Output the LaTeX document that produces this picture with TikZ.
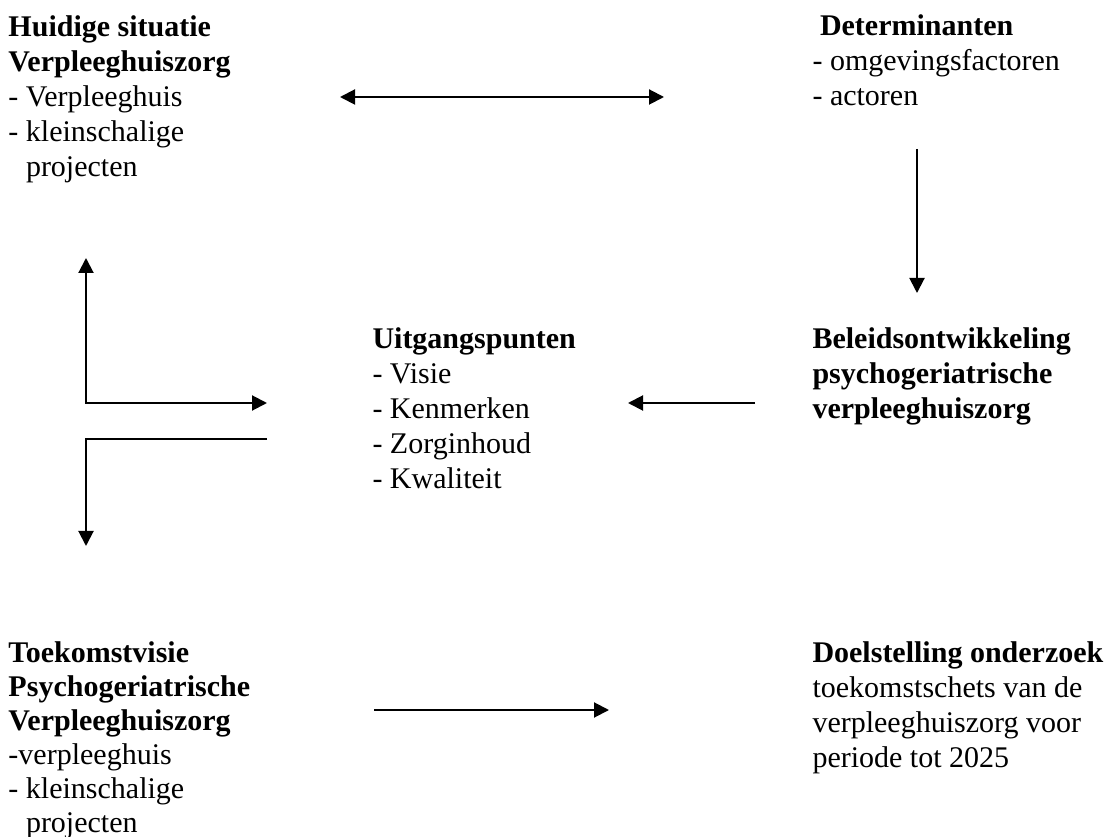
\documentclass[tikz,border=0pt]{standalone}
\usepackage{fontspec}
\setmainfont{Liberation Serif}
\usetikzlibrary{arrows.meta}

\begin{document}
\begin{tikzpicture}[x=0.4pt,y=-0.4pt,
	tekst/.style={anchor=base west,align=left,inner sep=0pt,font=\fontsize{12pt}{14pt}\selectfont},
	pijl/.style={line width=0.8pt,>={Triangle[length=6pt,width=6pt]}}]
	\useasboundingbox (0,0) rectangle (1105,837);
	% base = basislijn van de laatste regel
	\node[tekst] (huidig) at (8,177) {\textbf{Huidige situatie}\\\textbf{Verpleeghuiszorg}\\- Verpleeghuis\\- kleinschalige\\\hspace*{7pt}projecten};
	\node[tekst] (determ) at (812,106) {\hspace*{3pt}\textbf{Determinanten}\\- omgevingsfactoren\\- actoren};
	\node[tekst] (uitgang) at (372,489) {\textbf{Uitgangspunten}\\- Visie\\- Kenmerken\\- Zorginhoud\\- Kwaliteit};
	\node[tekst] (beleid) at (812,419) {\textbf{Beleidsontwikkeling}\\\textbf{psychogeriatrische}\\\textbf{verpleeghuiszorg}};
	\node[tekst,font=\fontsize{12pt}{13.6pt}\selectfont] (toekomst) at (8,832) {\textbf{Toekomstvisie}\\\textbf{Psychogeriatrische}\\\textbf{Verpleeghuiszorg}\\-verpleeghuis\\- kleinschalige\\\hspace*{7pt}projecten};
	\node[tekst] (doel) at (812,767) {\textbf{Doelstelling onderzoek}\\toekomstschets van de\\verpleeghuiszorg voor\\periode tot 2025};
	% eindpunten van de pijlen
	\coordinate (h1) at (340,97);
	\coordinate (h2) at (664,97);
	\coordinate (d1) at (917,149);
	\coordinate (d2) at (917,293);
	\coordinate (b1) at (755,403);
	\coordinate (b2) at (628,403);
	\coordinate (l1) at (86,258);
	\coordinate (l2) at (267,403);
	\coordinate (l3) at (267,439);
	\coordinate (l4) at (86,546);
	\coordinate (t1) at (374,710);
	\coordinate (t2) at (609,710);
	\draw[pijl,<->] (h1) -- (h2);
	\draw[pijl,->] (d1) -- (d2);
	\draw[pijl,->] (b1) -- (b2);
	\draw[pijl,<->] (l1) |- (l2);
	\draw[pijl,->] (l3) -| (l4);
	\draw[pijl,->] (t1) -- (t2);
\end{tikzpicture}
\end{document}
